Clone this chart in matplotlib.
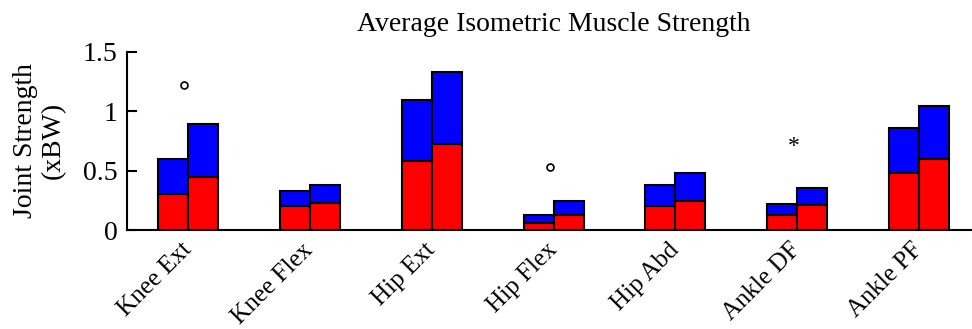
import numpy as np
import matplotlib
matplotlib.use('Agg')
import matplotlib.pyplot as plt

plt.rcParams['font.family'] = ['Liberation Serif', 'DejaVu Serif']

# joint groups and two bars per group (red lower segment, blue total)
joints = ['Knee Ext', 'Knee Flex', 'Hip Ext', 'Hip Flex', 'Hip Abd', 'Ankle DF', 'Ankle PF']
red1 = [0.30, 0.20, 0.58, 0.06, 0.20, 0.13, 0.48]
total1 = [0.60, 0.33, 1.09, 0.13, 0.38, 0.22, 0.86]
red2 = [0.45, 0.23, 0.72, 0.13, 0.24, 0.21, 0.60]
total2 = [0.89, 0.38, 1.33, 0.24, 0.48, 0.35, 1.04]

# significance marks: (group index, height, symbol)
marks = [(0, 1.22, 'o'), (3, 0.53, 'o'), (5, 0.70, '*')]

fig = plt.figure(figsize=(9.72, 3.29), dpi=100)
ax = fig.add_axes([0.1307, 0.3009, 0.8776, 0.542])

x = np.arange(len(joints))
w = 0.246
blue1 = np.array(total1) - np.array(red1)
blue2 = np.array(total2) - np.array(red2)

ax.bar(x - w / 2, red1, w, color='#ff0000', edgecolor='black', linewidth=1.5)
ax.bar(x - w / 2, blue1, w, bottom=red1, color='#0000ff', edgecolor='black', linewidth=1.5)
ax.bar(x + w / 2, red2, w, color='#ff0000', edgecolor='black', linewidth=1.5)
ax.bar(x + w / 2, blue2, w, bottom=red2, color='#0000ff', edgecolor='black', linewidth=1.5)

for i, h, s in marks:
  if s == 'o':
    ax.plot(i - 0.03, h, 'o', mfc='white', mec='black', ms=5, mew=1.2)
  else:
    ax.text(i - 0.03, h, s, ha='center', va='center', fontsize=17)

ax.set_xlim(-0.5, 6.5)
ax.set_ylim(0, 1.5)
ax.set_yticks([0, 0.5, 1, 1.5])
ax.set_yticklabels(['0', '0.5', '1', '1.5'])
ax.set_xticks(x)
ax.set_xticklabels(joints, rotation=45, ha='right', va='center', rotation_mode='anchor')
ax.tick_params(axis='y', direction='in', length=7, width=1.5, labelsize=20, pad=7)
ax.tick_params(axis='x', length=0, labelsize=18, pad=12)
for side in ['top', 'right']:
  ax.spines[side].set_visible(False)
for side in ['left', 'bottom']:
  ax.spines[side].set_linewidth(1.5)

ax.set_ylabel('Joint Strength\n(xBW)', fontsize=20, labelpad=12, linespacing=1.15)
ax.set_title('Average Isometric Muscle Strength', fontsize=20, pad=15)

fig.savefig('out.png', dpi=100)
